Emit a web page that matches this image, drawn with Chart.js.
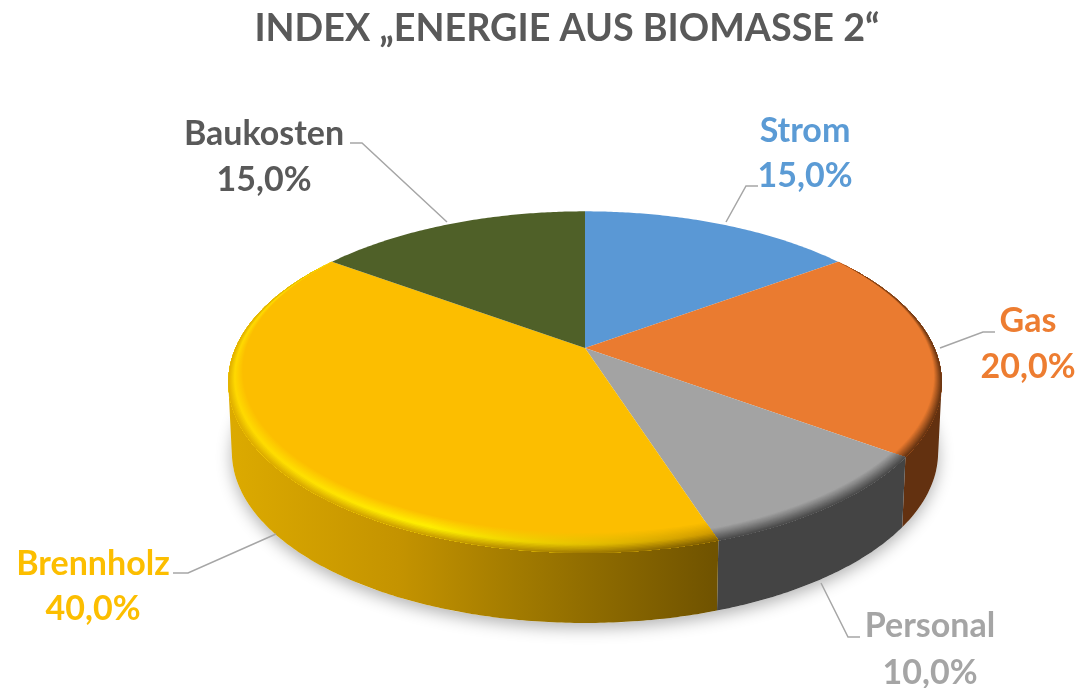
<!DOCTYPE html>
<html>
<head>
<meta charset="utf-8">
<title>Index Energie aus Biomasse 2</title>
<script src="https://cdn.jsdelivr.net/npm/chart.js@4"></script>
<style>
  html, body { margin: 0; background: #fff; }
  #wrap { width: 1080px; height: 688px; }
</style>
</head>
<body>
<div id="wrap"><canvas id="pie" width="1080" height="688"></canvas></div>
<script>
const titleText = 'INDEX „ENERGIE AUS BIOMASSE 2“';
const categories = ['Strom', 'Gas', 'Personal', 'Brennholz', 'Baukosten'];
const shares = [15, 20, 10, 40, 15];
const sliceColors = ['#5a98d5', '#ea7b30', '#a3a3a3', '#fcbe00', '#4f6028'];
const labelColors = ['#5b9bd5', '#ed7d31', '#a5a5a5', '#fcbe00', '#595959'];

// look of the tilted pie
const CX = 585, CY = 348, RX = 349.5, RY = 164, TILT = 0.2, DEPTH = 70;
const FONT = 'bold 34px Lato, "Open Sans", sans-serif';

// label anchor + leader line per slice
const labelLayout = [
  { x: 805, y1: 131, y2: 176, line: [[726, 222], [746, 186], [758, 186]] },
  { x: 1028, y1: 321, y2: 367, line: [[940, 348], [983, 332], [995, 332]] },
  { x: 930, y1: 626, y2: 673, line: [[821, 583], [848, 637], [860, 637]] },
  { x: 93, y1: 564, y2: 609, line: [[276, 534], [188, 573], [173, 573]] },
  { x: 264, y1: 134, y2: 180, line: [[447, 222], [362, 143], [350, 143]] }
];

// wall colour, and the rim bevel from inner (t=1) to outer (t=0), varying along x
const wallColors = [null, '#633110', '#444444', 'grad', null];
const bevels = [
  null,
  { width: 0.045, ramps: [{ x: 0, stops: [[1, '#ea7b30'], [0, '#5f3010']] }] },
  { width: 0.055, ramps: [{ x: 0, stops: [[1, '#a3a3a3'], [0, '#454545']] }] },
  { width: 0.085, ramps: [
    { x: 230, stops: [[1, '#fcbe00'], [0.45, '#ffd800'], [0, '#dcaa00']] },
    { x: 430, stops: [[1, '#fcbe00'], [0.45, '#fff000'], [0, '#c49300']] },
    { x: 714, stops: [[1, '#fcbe00'], [0.45, '#d09a00'], [0, '#745600']] }
  ] },
  null
];

// unit circle -> screen, nearer edge gets bigger
function project(a, r, drop) {
  const u = r * Math.cos(a), v = r * Math.sin(a), w = 1 - TILT * v;
  const shrink = drop ? 0.99 : 1;
  return [CX + RX * shrink * u / w, CY + RY * v / w + (drop || 0)];
}

function rimPoints(a0, a1, rFn, drop) {
  const n = Math.max(2, Math.ceil((a1 - a0) / 0.01)), pts = [];
  for (let i = 0; i <= n; i++) {
    const a = a0 + (a1 - a0) * i / n;
    pts.push(project(a, rFn(a), drop));
  }
  return pts;
}

function tracePoly(ctx, pts) {
  pts.forEach((p, i) => i ? ctx.lineTo(p[0], p[1]) : ctx.moveTo(p[0], p[1]));
  ctx.closePath();
}

function fillPoly(ctx, pts) {
  ctx.beginPath();
  tracePoly(ctx, pts);
  ctx.fill();
}

function signedArea(pts) {
  let s = 0;
  pts.forEach((p, i) => {
    const q = pts[(i + 1) % pts.length];
    s += p[0] * q[1] - q[0] * p[1];
  });
  return s;
}

function hex(c) { return [1, 3, 5].map(i => parseInt(c.substr(i, 2), 16)); }

function rampColor(stops, t) {
  for (let i = 0; i < stops.length - 1; i++) {
    const [t0, c0] = stops[i], [t1, c1] = stops[i + 1];
    if (t <= t0 && t >= t1) {
      const k = (t - t1) / (t0 - t1), a = hex(c0), b = hex(c1);
      return 'rgb(' + a.map((x, j) => Math.round(b[j] + (x - b[j]) * k)).join(',') + ')';
    }
  }
  return stops[0][1];
}

function bevelFill(ctx, bevel, t) {
  if (bevel.ramps.length === 1) return rampColor(bevel.ramps[0].stops, t);
  const first = bevel.ramps[0].x, last = bevel.ramps[bevel.ramps.length - 1].x;
  const g = ctx.createLinearGradient(first, 0, last, 0);
  bevel.ramps.forEach(r => g.addColorStop((r.x - first) / (last - first), rampColor(r.stops, t)));
  return g;
}

// light falls from behind, so the bevel fades out towards the back
function bevelReach(a) {
  return Math.max(0, Math.min(1, (Math.sin(a) + 0.6) / 1.6));
}

const tiltedPie = {
  id: 'tiltedPie',
  beforeDatasetDraw(chart, args) {
    const ctx = chart.ctx, arcs = chart.getDatasetMeta(args.index).data;
    const full = () => 1;

    ctx.save();
    // soft shadow under the disc
    ctx.save();
    ctx.shadowColor = 'rgba(0,0,0,0.3)';
    ctx.shadowBlur = 16;
    ctx.shadowOffsetY = 5;
    ctx.fillStyle = '#fff';
    fillPoly(ctx, rimPoints(0, Math.PI * 2, full, DEPTH));
    ctx.restore();

    // side wall, swept quad by quad so the silhouette stays straight at the tangents
    arcs.forEach((arc, i) => {
      if (!wallColors[i]) return;
      const top = rimPoints(arc.startAngle, arc.endAngle, full, 0);
      const bottom = rimPoints(arc.startAngle, arc.endAngle, full, DEPTH);
      if (wallColors[i] === 'grad') {
        const g = ctx.createLinearGradient(230, 0, 714, 0);
        g.addColorStop(0, '#dcaa00');
        g.addColorStop(0.35, '#c49300');
        g.addColorStop(0.6, '#a17a00');
        g.addColorStop(1, '#705300');
        ctx.fillStyle = g;
      } else {
        ctx.fillStyle = wallColors[i];
      }
      ctx.beginPath();
      for (let k = 0; k < top.length - 1; k++) {
        const quad = [top[k], top[k + 1], bottom[k + 1], bottom[k]];
        // same winding for all, otherwise back and front quads cancel out
        tracePoly(ctx, signedArea(quad) < 0 ? quad.reverse() : quad);
      }
      ctx.fill();
    });

    // top face and rim bevel
    arcs.forEach((arc, i) => {
      const rim = rimPoints(arc.startAngle, arc.endAngle, full, 0);
      ctx.fillStyle = sliceColors[i];
      fillPoly(ctx, [[CX, CY]].concat(rim));
      if (!bevels[i]) return;
      const steps = 16;
      for (let s = steps; s >= 0; s--) {
        const t = s / steps;
        const inner = rimPoints(arc.startAngle, arc.endAngle,
          a => 1 - bevels[i].width * t * bevelReach(a), 0);
        ctx.fillStyle = bevelFill(ctx, bevels[i], t);
        fillPoly(ctx, rim.concat(inner.reverse()));
      }
    });
    ctx.restore();
    return false;
  },
  afterDatasetsDraw(chart) {
    const ctx = chart.ctx;
    ctx.save();
    ctx.strokeStyle = '#a6a6a6';
    ctx.lineWidth = 1.5;
    ctx.font = FONT;
    ctx.textAlign = 'center';
    ctx.textBaseline = 'middle';
    categories.forEach((name, i) => {
      const l = labelLayout[i];
      ctx.beginPath();
      l.line.forEach((p, j) => j ? ctx.lineTo(p[0], p[1]) : ctx.moveTo(p[0], p[1]));
      ctx.stroke();
      ctx.fillStyle = labelColors[i];
      ctx.fillText(name, l.x, l.y1);
      ctx.fillText(shares[i].toFixed(1).replace('.', ',') + '%', l.x, l.y2);
    });
    ctx.restore();
  }
};

new Chart(document.getElementById('pie').getContext('2d'), {
  type: 'pie',
  data: {
    labels: categories,
    datasets: [{ data: shares, backgroundColor: sliceColors, borderWidth: 0 }]
  },
  options: {
    responsive: false,
    animation: false,
    layout: { padding: { left: 54 } },
    plugins: {
      legend: { display: false },
      tooltip: { enabled: false },
      title: {
        display: true,
        text: titleText,
        color: '#595959',
        font: { family: 'Lato, "Open Sans", sans-serif', size: 37.7, weight: 'bold' },
        padding: { top: 6, bottom: 10 }
      }
    }
  },
  plugins: [tiltedPie]
});
</script>
</body>
</html>
